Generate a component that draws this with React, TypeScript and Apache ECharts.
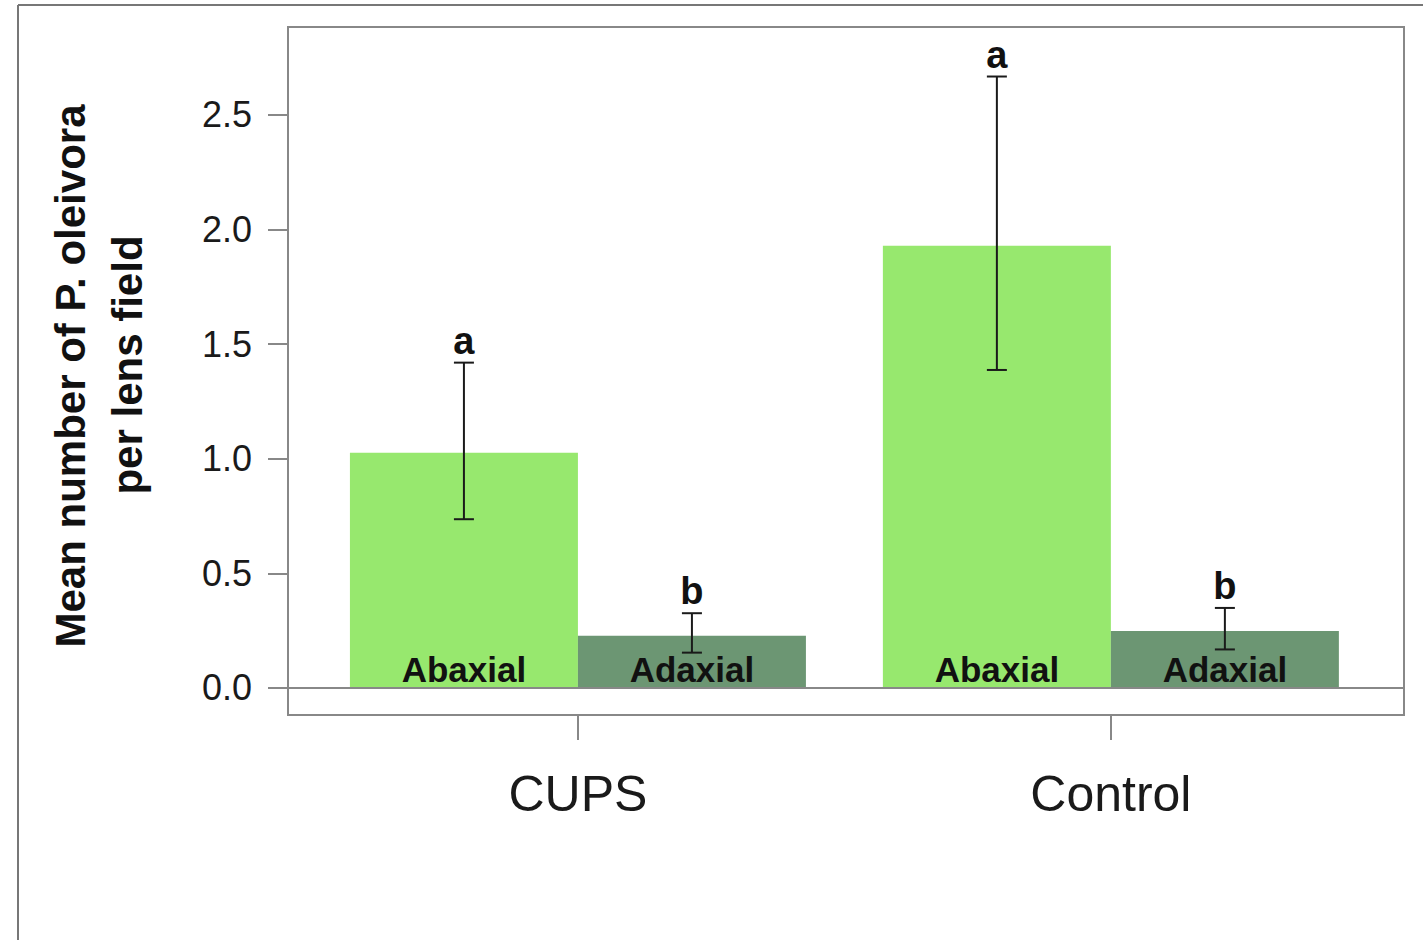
import React, { useEffect, useRef } from "react";
import * as echarts from "echarts";

// ---- data ----
const groups = ["CUPS", "Control"];
const groupPositions = [1, 2];
const surfaces = ["Abaxial", "Adaxial"];
const abaxialMean = [1.026, 1.929];
const abaxialLower = [0.736, 1.387];
const abaxialUpper = [1.419, 2.667];
const adaxialMean = [0.228, 0.248];
const adaxialLower = [0.154, 0.168];
const adaxialUpper = [0.326, 0.349];
const abaxialLetters = ["a", "a"];
const adaxialLetters = ["b", "b"];
const yTicks = [0, 0.5, 1.0, 1.5, 2.0, 2.5];
const yTitleLine1 = "Mean number of P. oleivora";
const yTitleLine2 = "per lens field";

const FONT = "'Liberation Sans', Arial, Helvetica, sans-serif";
const BAR_W = 228;

function errorSeries(name: string, lower: number[], upper: number[], letters: string[], offset: number) {
  return {
    type: "custom",
    name: name + " error",
    z: 5,
    silent: true,
    data: groupPositions.map((x, i) => [x, lower[i], upper[i]]),
    renderItem: (params: any, api: any) => {
      const x = api.value(0);
      const lo = api.value(1);
      const hi = api.value(2);
      const pHi = api.coord([x, hi]);
      const pLo = api.coord([x, lo]);
      const cx = pHi[0] + offset;
      const capW = 10;
      const stroke = { stroke: "#1a1a1a", lineWidth: 2 };
      return {
        type: "group",
        children: [
          { type: "line", shape: { x1: cx, y1: pHi[1], x2: cx, y2: pLo[1] }, style: stroke },
          { type: "line", shape: { x1: cx - capW, y1: pHi[1], x2: cx + capW, y2: pHi[1] }, style: stroke },
          { type: "line", shape: { x1: cx - capW, y1: pLo[1], x2: cx + capW, y2: pLo[1] }, style: stroke },
          {
            type: "text",
            x: cx,
            y: pHi[1] - 3,
            style: {
              text: letters[params.dataIndex],
              fontFamily: FONT,
              fontWeight: "bold",
              fontSize: 38,
              fill: "#111",
              align: "center",
              verticalAlign: "bottom",
            },
          },
        ],
      };
    },
  };
}

export default function App() {
  const ref = useRef<HTMLDivElement>(null);
  useEffect(() => {
    if (!ref.current) return;
    const chart = echarts.init(ref.current, undefined, { renderer: "svg" });
    const barLabel = {
      show: true,
      position: "insideBottom",
      distance: 1,
      formatter: (p: any) => p.seriesName,
      fontFamily: FONT,
      fontWeight: "bold",
      fontSize: 35,
      color: "#111",
    };
    chart.setOption({
      animation: false,
      backgroundColor: "#ffffff",
      grid: {
        left: 288,
        top: 27,
        right: 19,
        bottom: 225,
        show: true,
        borderColor: "#888",
        borderWidth: 2,
        backgroundColor: "transparent",
      },
      xAxis: {
        type: "value",
        min: 0.456,
        max: 2.55,
        axisLine: { show: false, onZero: false },
        splitLine: { show: false },
        axisTick: {
          show: true,
          customValues: groupPositions,
          length: 25,
          lineStyle: { color: "#888", width: 2 },
        },
        axisLabel: {
          customValues: groupPositions,
          formatter: (v: number) => groups[groupPositions.indexOf(v)] ?? "",
          fontFamily: FONT,
          fontSize: 50,
          color: "#1a1a1a",
          margin: 54,
        },
      },
      yAxis: {
        type: "value",
        min: -0.118,
        max: 2.883,
        axisLine: { show: false, onZero: false },
        splitLine: { show: false },
        axisTick: {
          show: true,
          customValues: yTicks,
          length: 20,
          lineStyle: { color: "#888", width: 2 },
        },
        axisLabel: {
          customValues: yTicks,
          formatter: (v: number) => v.toFixed(1),
          fontFamily: FONT,
          fontSize: 36,
          color: "#1a1a1a",
          margin: 36,
        },
      },
      series: [
        {
          type: "bar",
          name: surfaces[0],
          barWidth: BAR_W,
          barGap: "0%",
          data: groupPositions.map((x, i) => [x, abaxialMean[i]]),
          itemStyle: { color: "#97e86e" },
          label: barLabel,
          markLine: {
            silent: true,
            symbol: ["none", "none"],
            label: { show: false },
            lineStyle: { color: "#888", width: 2, type: "solid" },
            data: [{ yAxis: 0 }],
          },
        },
        {
          type: "bar",
          name: surfaces[1],
          barWidth: BAR_W,
          barGap: "0%",
          data: groupPositions.map((x, i) => [x, adaxialMean[i]]),
          itemStyle: { color: "#6c9673" },
          label: barLabel,
        },
        errorSeries(surfaces[0], abaxialLower, abaxialUpper, abaxialLetters, -BAR_W / 2),
        errorSeries(surfaces[1], adaxialLower, adaxialUpper, adaxialLetters, BAR_W / 2),
      ],
      graphic: [
        { type: "line", shape: { x1: 18, y1: 5, x2: 1423, y2: 5 }, style: { stroke: "#777", lineWidth: 2 } },
        { type: "line", shape: { x1: 18, y1: 5, x2: 18, y2: 940 }, style: { stroke: "#777", lineWidth: 2 } },
        {
          type: "text",
          x: 70,
          y: 376,
          rotation: Math.PI / 2,
          style: {
            text: yTitleLine1,
            fontFamily: FONT,
            fontWeight: "bold",
            fontSize: 42,
            fill: "#111",
            align: "center",
            verticalAlign: "middle",
          },
        },
        {
          type: "text",
          x: 127,
          y: 365,
          rotation: Math.PI / 2,
          style: {
            text: yTitleLine2,
            fontFamily: FONT,
            fontWeight: "bold",
            fontSize: 42,
            fill: "#111",
            align: "center",
            verticalAlign: "middle",
          },
        },
      ],
    });
    return () => chart.dispose();
  }, []);
  return (
    <div
      ref={ref}
      style={{ position: "absolute", left: 0, top: 0, width: 1423, height: 940 }}
    />
  );
}
